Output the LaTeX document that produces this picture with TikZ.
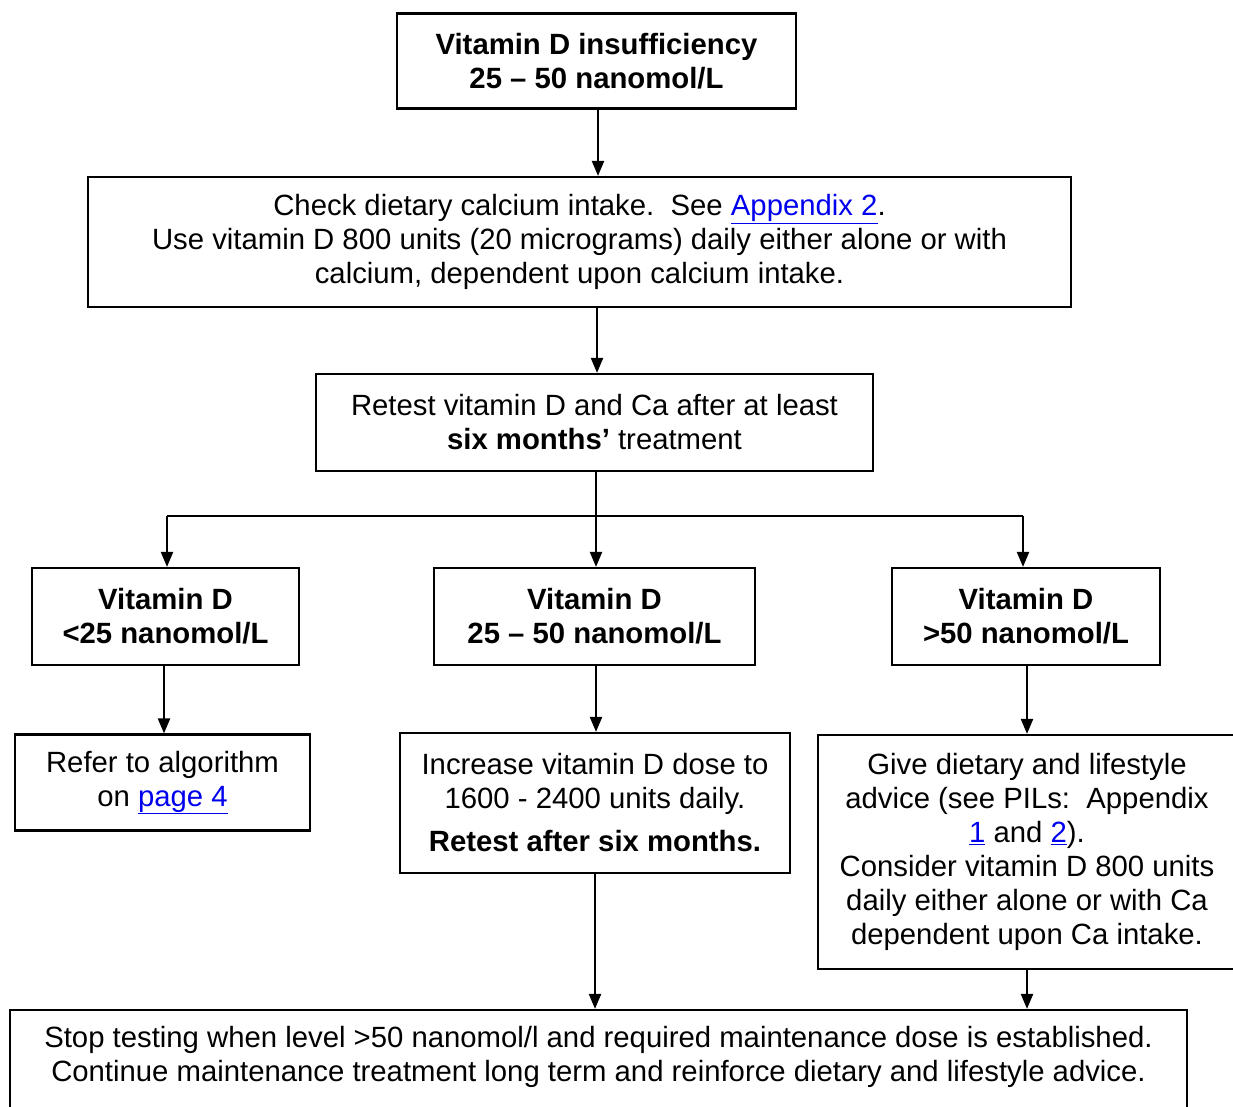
\documentclass[tikz,border=0pt]{standalone}
\usepackage{fontspec}
\setmainfont{Liberation Sans}
\usetikzlibrary{arrows.meta}
\definecolor{linkblue}{RGB}{0,0,238}
\newcommand\lnk[1]{\textcolor{linkblue}{\underline{#1}}}
\begin{document}
\begin{tikzpicture}[x=1pt,y=-1pt,
  box/.style={draw,line width=2.2pt,rectangle,inner sep=0pt,align=center,
    font=\fontsize{29.3}{34}\selectfont},
  txt/.style={inner sep=0pt,align=center,font=\fontsize{29.3}{34}\selectfont},
  arr/.style={line width=2.2pt,-{Triangle[length=15pt,width=12pt]}},
  ln/.style={line width=2.2pt}]
\clip (0,0) rectangle (1233,1106);
% boxes: center, width, height
\node[box,minimum width=399,minimum height=95] (b1) at (596.5,61)
  {\bfseries Vitamin D insufficiency\\\bfseries 25 -- 50 nanomol/L};
\node[box,minimum width=983,minimum height=130] (b2) at (579.5,242)
  {Check dietary calcium intake.\ \ See \lnk{Appendix 2}.\\
   Use vitamin D 800 units (20 micrograms) daily either alone or with\\
   calcium, dependent upon calcium intake.};
\node[box,minimum width=557,minimum height=97] (b3) at (594.5,422.5)
  {Retest vitamin D and Ca after at least\\ \textbf{six months’} treatment};
\node[box,minimum width=267,minimum height=97] (b4) at (165.5,616.5)
  {\bfseries Vitamin D\\\bfseries <25 nanomol/L};
\node[box,minimum width=321,minimum height=97] (b5) at (594.5,616.5)
  {\bfseries Vitamin D\\\bfseries 25 -- 50 nanomol/L};
\node[box,minimum width=268,minimum height=97] (b6) at (1026,616.5)
  {\bfseries Vitamin D\\\bfseries >50 nanomol/L};
\node[box,minimum width=295,minimum height=96] (b7) at (162.5,782.5)
  {Refer to algorithm\\ on \lnk{page 4}};
\node[box,minimum width=390,minimum height=140] (b8) at (595,803)
  {Increase vitamin D dose to\\ 1600 - 2400 units daily.\\[9pt]
   \bfseries Retest after six months.};
\node[box,minimum width=418,minimum height=234] (b9) at (1027,852)
  {Give dietary and lifestyle\\ advice (see PILs:\ \ Appendix\\
   \lnk{1} and \lnk{2}).\\ Consider vitamin D 800 units\\
   daily either alone or with Ca\\ dependent upon Ca intake.};
\node[box,minimum width=1177,minimum height=110] (b10) at (598.5,1065) {};
\node[txt] (b10t) at (598.5,1057)
  {Stop testing when level >50 nanomol/l and required maintenance dose is established.\\
   Continue maintenance treatment long term and reinforce dietary and lifestyle advice.};
% connectors
\coordinate (split) at (596,516);
\coordinate (lft) at (167,516);
\coordinate (rgt) at (1023,516);
\draw[arr] (b1.south -| 598,0) -- (b2.north -| 598,0);
\draw[arr] (b2.south -| 597,0) -- (b3.north -| 597,0);
\draw[ln] (split |- b3.south) -- (split);
\draw[ln] (lft) -- (rgt);
\draw[arr] (lft) -- (lft |- b4.north);
\draw[arr] (split) -- (split |- b5.north);
\draw[arr] (rgt) -- (rgt |- b6.north);
\draw[arr] (b4.south -| 164,0) -- (b7.north -| 164,0);
\draw[arr] (b5.south -| 596,0) -- (b8.north -| 596,0);
\draw[arr] (b6.south -| 1027,0) -- (b9.north -| 1027,0);
\draw[arr] (b8.south) -- (b8.south |- b10.north);
\draw[arr] (b9.south) -- (b9.south |- b10.north);
\end{tikzpicture}
\end{document}
